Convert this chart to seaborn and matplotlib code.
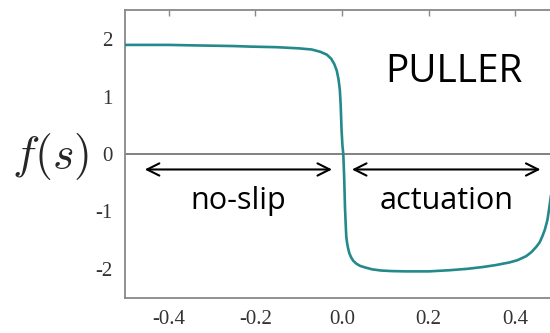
import matplotlib
matplotlib.use("Agg")
import matplotlib.pyplot as plt
import seaborn as sns
import pandas as pd

# Profile of the slip function f(s) along the body
s_vals = [-0.5, -0.40, -0.33, -0.25, -0.21, -0.15, -0.10, -0.07, -0.05, -0.035,
          -0.025, -0.018, -0.012, -0.008, -0.005, -0.003, -0.001, 0.001, 0.003,
          0.005, 0.007, 0.009, 0.010, 0.012, 0.014, 0.017, 0.021, 0.026, 0.033,
          0.042, 0.055, 0.07, 0.09, 0.115, 0.148, 0.2, 0.248, 0.29, 0.324,
          0.355, 0.386, 0.405, 0.425, 0.437, 0.448, 0.456, 0.462, 0.468,
          0.474, 0.478, 0.483, 0.488]
f_vals = [1.90, 1.90, 1.89, 1.88, 1.87, 1.86, 1.84, 1.82, 1.78, 1.73,
          1.66, 1.57, 1.45, 1.30, 1.12, 0.85, 0.42, 0.15, 0.0,
          -0.40, -0.95, -1.30, -1.45, -1.56, -1.64, -1.73, -1.80, -1.86, -1.91,
          -1.95, -1.98, -2.01, -2.03, -2.04, -2.045, -2.045, -2.025, -2.0, -1.97,
          -1.935, -1.89, -1.85, -1.78, -1.71, -1.62, -1.54, -1.44, -1.32,
          -1.15, -0.95, -0.68, -0.35]

x_ticks = [-0.4, -0.2, 0.0, 0.2, 0.4]
x_tick_labels = ["-0.4", "-0.2", "0.0", "0.2", "0.4"]
y_ticks = [-2, -1, 0, 1, 2]
y_tick_labels = ["-2", "-1", "0", "1", "2"]

region_labels = ["no-slip", "actuation"]
region_spans = [(-0.455, -0.023), (0.023, 0.458)]
title_text = "PULLER"

sns.set_style("white")
plt.rcParams["mathtext.fontset"] = "cm"

fig = plt.figure(figsize=(5.5, 3.33), dpi=100)
ax = fig.add_axes([0.2278, 0.1066, 0.788, 0.862])

df = pd.DataFrame({"s": s_vals, "f": f_vals})
sns.lineplot(data=df, x="s", y="f", ax=ax, color="#23898b", linewidth=1.9,
             sort=False, zorder=3)

ax.axhline(0, color="#777777", linewidth=1.3, zorder=1)

ax.set_xlim(-0.5, 0.5)
ax.set_ylim(-2.5, 2.5)
ax.set_xticks(x_ticks)
ax.set_xticklabels(x_tick_labels)
ax.set_yticks(y_ticks)
ax.set_yticklabels(y_tick_labels)
ax.tick_params(axis="both", direction="in", length=4, width=1, color="#888888",
               labelsize=15, labelcolor="#333333", top=True, pad=9)
for lab in ax.get_xticklabels() + ax.get_yticklabels():
    lab.set_family("Liberation Serif")
for sp in ax.spines.values():
    sp.set_color("#888888")
    sp.set_linewidth(1.3)

ax.set_xlabel("")
ax.set_ylabel(r"$f(s)$", fontsize=33, rotation=0, labelpad=10, va="center")
ax.yaxis.set_label_coords(-0.172, 0.49)

arrow_y = -0.27
for (x0, x1), label in zip(region_spans, region_labels):
    ax.annotate("", xy=(x0, arrow_y), xytext=(x1, arrow_y),
                arrowprops=dict(arrowstyle="<->", color="black", lw=1.5,
                                mutation_scale=22, shrinkA=0, shrinkB=0))
    ax.text((x0 + x1) / 2, -0.82, label, ha="center", va="center",
            fontsize=22, family="Open Sans", color="black")

ax.text(0.258, 1.42, title_text, ha="center", va="center", fontsize=28,
        family="Open Sans", color="black")

fig.savefig("out.png", dpi=100)
